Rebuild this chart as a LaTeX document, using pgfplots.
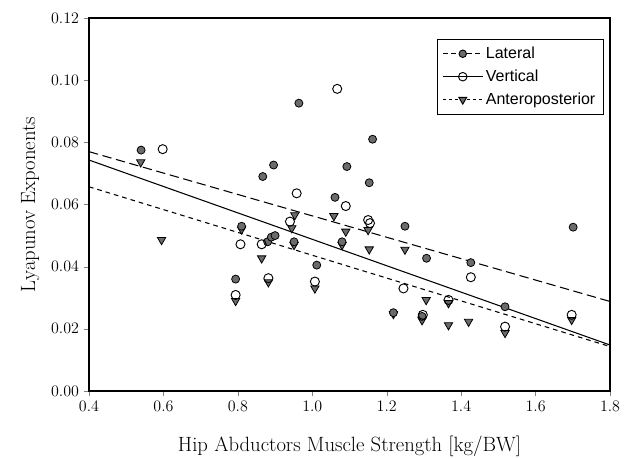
\documentclass[border=0pt]{standalone}
\usepackage{pgfplots}
\pgfplotsset{compat=1.18}
\usepackage{fontspec}
\newfontfamily\legfont{Liberation Sans}
\definecolor{mkgray}{gray}{0.42}
\begin{document}
\begin{tikzpicture}
\begin{axis}[
  at={(0,0)}, anchor=south west,
  width=390.75pt, height=279.75pt, scale only axis,
  xmin=0.4, xmax=1.8, ymin=0, ymax=0.12,
  xtick={0.4,0.6,...,1.8},
  ytick={0,0.02,...,0.12},
  xticklabel style={/pgf/number format/fixed,/pgf/number format/fixed zerofill,/pgf/number format/precision=1},
  yticklabel style={/pgf/number format/fixed,/pgf/number format/fixed zerofill,/pgf/number format/precision=2},
  scaled y ticks=false,
  tick label style={font=\fontsize{13}{15}\selectfont},
  xtick pos=bottom, ytick pos=left, tick align=outside,
  major tick length=4pt,
  axis line style={line width=0.9pt},
  xlabel={Hip Abductors Muscle Strength [kg/BW]},
  ylabel={Lyapunov Exponents},
  label style={font=\fontsize{15.5}{18}\selectfont},
  xlabel style={yshift=-12pt},
  ylabel style={yshift=2pt},
  legend style={at={(rel axis cs:0.988,0.945)}, anchor=north east, font=\legfont\fontsize{12}{14}\selectfont, draw=black, line width=0.7pt, row sep=3pt, inner sep=4pt},
  legend cell align=left,
  legend image code/.code={\draw[#1] (0pt,0pt) -- (30pt,0pt); \draw[#1,solid] plot coordinates {(15pt,0pt)};},
]
\addlegendimage{black, line width=0.7pt, dash pattern=on 4pt off 2pt, mark=*, mark size=2.8pt, mark options={solid, fill=mkgray, draw=black}}
\addlegendentry{Lateral}
\addlegendimage{black, line width=0.7pt, mark=o, mark size=3.2pt, mark options={solid, fill=white}}
\addlegendentry{Vertical}
\addlegendimage{black, line width=0.7pt, dash pattern=on 2.5pt off 2pt, mark=triangle*, mark size=3.4pt, mark options={solid, rotate=180, fill=mkgray, draw=black}}
\addlegendentry{Anteroposterior}

% regression lines
\addplot[forget plot, black, line width=0.8pt, dash pattern=on 7pt off 3.5pt] coordinates {(0.4,0.0770) (1.8,0.0288)};
\addplot[forget plot, black, line width=0.8pt] coordinates {(0.4,0.0743) (1.8,0.0148)};
\addplot[forget plot, black, line width=0.8pt, dash pattern=on 3.5pt off 3pt] coordinates {(0.4,0.0657) (1.8,0.0143)};

% Anteroposterior
\addplot[forget plot, only marks, mark=triangle*, mark size=3.6pt, mark options={rotate=180, fill=mkgray, draw=black, line width=0.6pt}] coordinates {
(0.539,0.0736) (0.595,0.0486) (0.794,0.0290) (0.810,0.0520) (0.864,0.0427)
(0.882,0.0350) (0.953,0.0566) (0.945,0.0524) (0.951,0.0470) (1.007,0.0330)
(1.058,0.0563) (1.080,0.0470) (1.090,0.0513) (1.150,0.0518) (1.153,0.0456)
(1.218,0.0248) (1.249,0.0455) (1.295,0.0228) (1.306,0.0293) (1.366,0.0283)
(1.366,0.0212) (1.420,0.0223) (1.518,0.0187) (1.697,0.0229)
};
% Lateral
\addplot[forget plot, only marks, mark=*, mark size=3pt, mark options={fill=mkgray, draw=black, line width=0.6pt}] coordinates {
(0.540,0.0775) (0.794,0.0360) (0.810,0.0530) (0.867,0.0690) (0.880,0.0480)
(0.890,0.0495) (0.900,0.0500) (0.896,0.0727) (0.951,0.0480) (0.964,0.0926)
(1.012,0.0405) (1.061,0.0623) (1.080,0.0480) (1.093,0.0722) (1.153,0.0670)
(1.162,0.0810) (1.218,0.0252) (1.249,0.0530) (1.295,0.0240) (1.307,0.0427)
(1.426,0.0413) (1.518,0.0271) (1.701,0.0527)
};
% Vertical
\addplot[forget plot, only marks, mark=o, mark size=3.4pt, mark options={fill=white, draw=black, line width=0.7pt}] coordinates {
(0.598,0.0778) (0.794,0.0309) (0.807,0.0472) (0.864,0.0472) (0.882,0.0363)
(0.940,0.0545) (0.958,0.0636) (1.007,0.0352) (1.067,0.0972) (1.090,0.0595)
(1.150,0.0550) (1.155,0.0540) (1.245,0.0330) (1.297,0.0245) (1.366,0.0293)
(1.426,0.0366) (1.518,0.0207) (1.697,0.0245)
};
\end{axis}
\pgfresetboundingbox
\path[use as bounding box] (-66.75pt,-51pt) rectangle (405.75pt,293.25pt);
\end{tikzpicture}
\end{document}
